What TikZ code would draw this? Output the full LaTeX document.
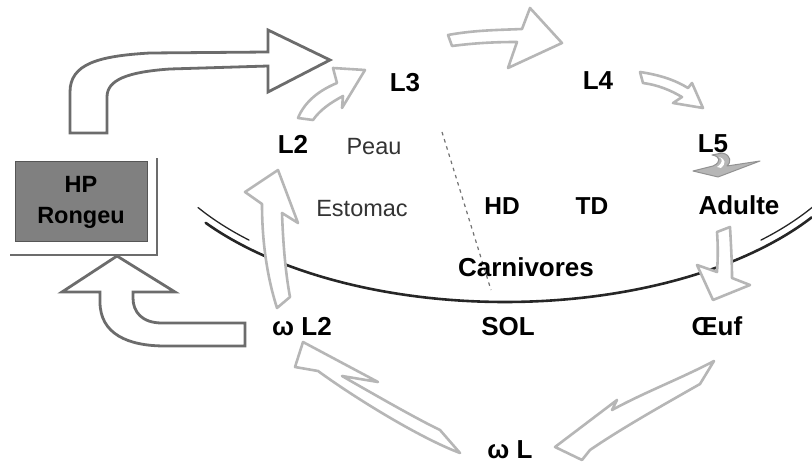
\documentclass[tikz,border=0pt]{standalone}
\usepackage{fontspec}
\setmainfont{Liberation Sans}
\definecolor{lightarr}{HTML}{B6B6B6}
\definecolor{darkarr}{HTML}{6C6C6C}
\definecolor{boxfill}{HTML}{808080}
\definecolor{ground}{HTML}{262626}
\definecolor{softtext}{HTML}{333333}
\tikzset{
  lightblock/.style={draw=lightarr, line width=2.6pt, fill=white, line join=round},
  darkblock/.style={draw=darkarr, line width=2.8pt, fill=white, line join=miter},
  lbl/.style={font=\fontsize{26}{30}\selectfont\bfseries, anchor=base, inner sep=0pt},
  midlbl/.style={font=\fontsize{24.5}{30}\selectfont\bfseries, anchor=base, inner sep=0pt},
  thinlbl/.style={font=\fontsize{23.5}{28}\selectfont, text=softtext, anchor=base, inner sep=0pt},
  hpbox/.style={draw=darkarr!80!black, line width=1pt, fill=boxfill,
    minimum width=132pt, minimum height=80pt, align=center,
    font=\fontsize{23.5}{31}\selectfont\bfseries, inner sep=0pt},
  groundline/.style={draw=ground, line width=2.6pt, line cap=round},
  groundthin/.style={draw=ground, line width=1.3pt, line cap=round},
  splitline/.style={draw=black!55, line width=1.2pt, dash pattern=on 3.5pt off 4pt}
}
\begin{document}
\begin{tikzpicture}[x=1pt,y=-1pt]
\useasboundingbox (0,0) rectangle (812,465);

% ground (soil surface)
\draw[groundline] plot[domain=144:34, samples=80, smooth] ({505+370*cos(\x)}, {110+192*sin(\x)});
\draw[groundthin] plot[domain=148:135, samples=20, smooth] ({505+362*cos(\x)}, {110+184*sin(\x)});
\draw[groundthin] plot[domain=45:31, samples=20, smooth] ({505+362*cos(\x)}, {110+184*sin(\x)});

% separation between skin and stomach routes
\coordinate (splitA) at (442,132);
\coordinate (splitB) at (491,290);
\draw[splitline] (splitA) -- (splitB);

% rodent host
\draw[darkarr, line width=1.6pt] (10,255) -- (157,255) -- (157,158);
\node[hpbox] (hp) at (81,202) {HP\\Rongeu};

% labels
\node[lbl] (l3) at (405,92) {L3};
\node[lbl] (l4) at (598,90) {L4};
\node[lbl] (l5) at (713,153) {L5};
\node[lbl] (l2) at (293,154) {L2};
\node[thinlbl] (peau) at (374,155) {Peau};
\node[thinlbl] (estomac) at (362,217) {Estomac};
\node[midlbl] (hd) at (502,215) {HD};
\node[midlbl] (td) at (592,215) {TD};
\node[lbl] (adulte) at (739,215) {Adulte};
\node[lbl] (carn) at (526,277) {Carnivores};
\node[lbl] (wl2) at (302,335) {ω L2};
\node[lbl] (sol) at (508,335) {SOL};
\node[lbl] (oeuf) at (717,335) {Œuf};
\node[lbl] (wl) at (510,458) {ω L};

% rodent -> L3
\draw[darkblock] (70,133) -- (70,92) .. controls (70,64) and (98,56) .. (150,53)
  -- (268,52) -- (268,30) -- (330,60) -- (268,92) -- (268,66) -- (170,69)
  .. controls (127,72) and (107,80) .. (107,97) -- (107,133) -- cycle;

% omega L2 -> rodent
\draw[darkblock] (245,323) -- (162,323) .. controls (142,323) and (133,312) .. (133,298)
  -- (133,292) -- (175,292) -- (117,256) -- (62,292) -- (100,292) -- (100,302)
  .. controls (100,334) and (128,346) .. (165,346) -- (245,346) -- cycle;

% L2 -> L3
\draw[lightblock] (298,118) .. controls (305,101) and (320,90) .. (337,83)
  -- (333,68) -- (365,70) -- (342,108) -- (343,96)
  .. controls (330,103) and (320,110) .. (313,120) -- cycle;

% L3 -> L4
\draw[lightblock] (448,35) .. controls (475,30) and (500,30) .. (522,29)
  -- (530,8) -- (562,43) -- (508,68) -- (517,42)
  .. controls (495,42) and (475,43) .. (452,46) -- cycle;

% L4 -> L5
\draw[lightblock] (640,72) .. controls (660,75) and (675,80) .. (688,88)
  -- (692,83) -- (703,108) -- (673,103) -- (682,97)
  .. controls (670,90) and (658,85) .. (643,83) -- cycle;

% L5 -> Adulte
\draw[draw=lightarr!80!black, line width=1pt, fill=lightarr, line join=round]
  (693,171) -- (713,166) .. controls (722,162) and (720,156) .. (712,155)
  -- (722,153) .. controls (732,155) and (731,163) .. (727,166)
  -- (760,161) -- (718,177) -- cycle;
\fill[white] (717,167) .. controls (723,163) and (723,159) .. (719,157)
  .. controls (726,159) and (726,164) .. (721,168) -- cycle;

% Adulte -> Oeuf
\draw[lightblock] (717,232) -- (730,227) .. controls (731,245) and (732,262) .. (732,278)
  -- (750,285) -- (713,300) -- (697,265) -- (717,272)
  .. controls (718,258) and (718,245) .. (717,232) -- cycle;

% Oeuf -> omega L
\draw[lightblock] (714,361) .. controls (682,378) and (645,392) .. (612,410)
  -- (617,400) -- (555,447) -- (582,460) -- (590,450)
  .. controls (622,428) and (665,404) .. (700,384) -- cycle;

% omega L -> omega L2
\draw[lightblock] (440,430) .. controls (415,418) and (370,392) .. (342,376)
  -- (378,382) -- (303,342) -- (295,367) -- (318,371)
  .. controls (355,398) and (420,438) .. (460,453) -- cycle;

% omega L2 -> L2
\draw[lightblock] (277,308) .. controls (268,280) and (262,245) .. (262,204)
  -- (245,192) -- (278,170) -- (298,223) -- (282,213)
  .. controls (283,240) and (285,270) .. (290,297) -- cycle;
\end{tikzpicture}
\end{document}
